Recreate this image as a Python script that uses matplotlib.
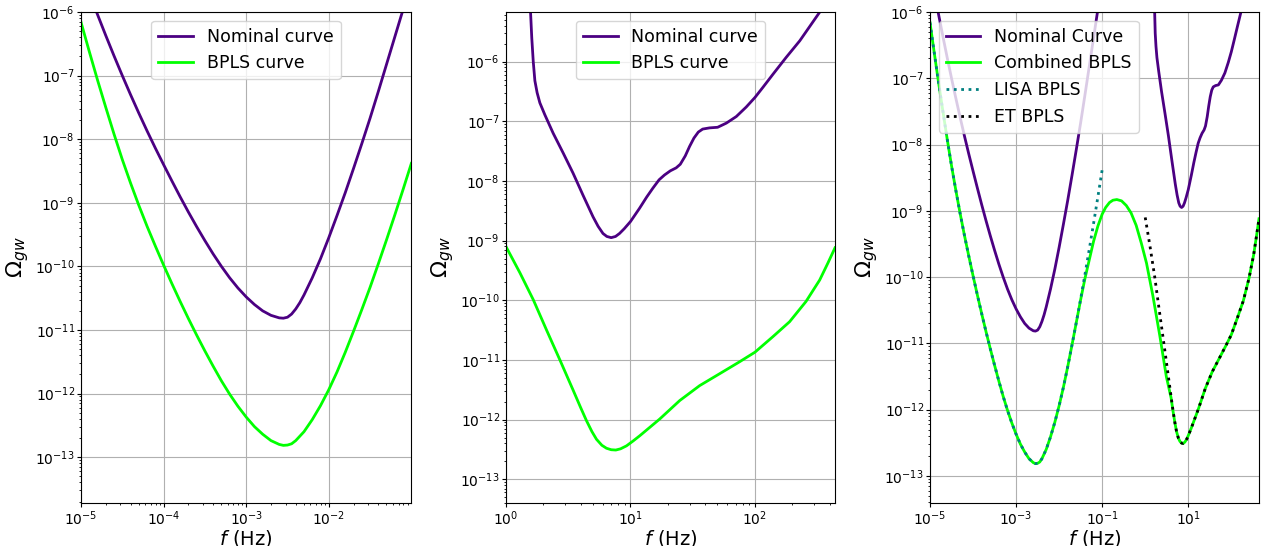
import numpy as np
import matplotlib
matplotlib.use("Agg")
import matplotlib.pyplot as plt

# ---------------- data (log10 values) ----------------
# LISA nominal curve
lisa_nom_logf = [-5.0, -4.9, -4.8, -4.7, -4.6, -4.5, -4.4, -4.3, -4.2, -4.1,
                 -4.0, -3.9, -3.8, -3.7, -3.6, -3.5, -3.4, -3.3, -3.2, -3.1,
                 -3.0, -2.9, -2.8, -2.7, -2.6, -2.55, -2.5, -2.45, -2.4, -2.35,
                 -2.3, -2.2, -2.1, -2.0, -1.9, -1.8, -1.7, -1.6, -1.5, -1.4,
                 -1.3, -1.2, -1.1, -1.0]
lisa_nom_logom = [-5.35, -5.70, -6.04, -6.37, -6.69, -7.00, -7.30, -7.59, -7.87, -8.14,
                  -8.40, -8.655, -8.905, -9.145, -9.375, -9.595, -9.805, -10.00, -10.18, -10.34,
                  -10.48, -10.60, -10.70, -10.77, -10.81, -10.815, -10.80, -10.75, -10.67, -10.57,
                  -10.45, -10.18, -9.88, -9.55, -9.20, -8.84, -8.46, -8.07, -7.67, -7.25,
                  -6.82, -6.39, -5.96, -5.52]

# LISA BPLS curve
lisa_bpls_logf = [-5.0, -4.9, -4.8, -4.7, -4.6, -4.5, -4.4, -4.3, -4.2, -4.1,
                  -4.0, -3.9, -3.8, -3.7, -3.6, -3.5, -3.4, -3.3, -3.2, -3.1,
                  -3.0, -2.9, -2.8, -2.7, -2.6, -2.55, -2.5, -2.45, -2.4, -2.3,
                  -2.2, -2.1, -2.0, -1.9, -1.8, -1.7, -1.6, -1.5, -1.4, -1.3,
                  -1.2, -1.1, -1.0]
lisa_bpls_logom = [-6.16, -6.62, -7.07, -7.50, -7.92, -8.32, -8.69, -9.04, -9.37, -9.68,
                   -9.98, -10.27, -10.55, -10.82, -11.08, -11.33, -11.57, -11.80, -12.01, -12.20,
                   -12.37, -12.52, -12.64, -12.74, -12.80, -12.815, -12.81, -12.79, -12.74, -12.60,
                   -12.41, -12.19, -11.94, -11.66, -11.35, -11.02, -10.68, -10.33, -9.96, -9.58,
                   -9.19, -8.79, -8.38]

# ET nominal curve
et_nom_logf = [0.17, 0.197, 0.207, 0.219, 0.232, 0.25, 0.272, 0.312, 0.379, 0.459,
               0.539, 0.619, 0.699, 0.74, 0.779, 0.81, 0.845, 0.88, 0.912, 0.95,
               1.0, 1.072, 1.13, 1.18, 1.23, 1.273, 1.32, 1.367, 1.40, 1.44,
               1.475, 1.51, 1.545, 1.58, 1.635, 1.70, 1.77, 1.85, 1.93, 2.0,
               2.064, 2.145, 2.25, 2.36, 2.52, 2.643]
et_nom_logom = [-4.6, -5.16, -5.6, -6.0, -6.32, -6.52, -6.69, -6.89, -7.20, -7.53,
                -7.87, -8.24, -8.60, -8.76, -8.88, -8.93, -8.95, -8.93, -8.88, -8.80,
                -8.68, -8.46, -8.27, -8.12, -7.98, -7.90, -7.83, -7.78, -7.72, -7.58,
                -7.42, -7.28, -7.18, -7.13, -7.11, -7.10, -7.03, -6.92, -6.76, -6.60,
                -6.43, -6.21, -5.93, -5.65, -5.17, -4.82]

# ET BPLS curve
et_bpls_logf = [0.0, 0.112, 0.219, 0.326, 0.433, 0.54, 0.60, 0.647, 0.69, 0.727,
                0.77, 0.807, 0.845, 0.882, 0.92, 0.968, 1.02, 1.075, 1.235, 1.396,
                1.556, 1.717, 1.877, 2.0, 2.144, 2.278, 2.41, 2.52, 2.585, 2.643]
et_bpls_logom = [-9.10, -9.54, -9.99, -10.50, -11.0, -11.51, -11.80, -12.02, -12.20, -12.33,
                 -12.43, -12.48, -12.505, -12.51, -12.49, -12.44, -12.36, -12.27, -11.99, -11.68,
                 -11.43, -11.23, -11.03, -10.87, -10.61, -10.36, -10.02, -9.66, -9.38, -9.12]

# Combined BPLS (LISA + ET)
comb_logf = [-5.0, -4.9, -4.8, -4.7, -4.6, -4.5, -4.4, -4.3, -4.2, -4.1,
             -4.0, -3.9, -3.8, -3.7, -3.6, -3.5, -3.4, -3.3, -3.2, -3.1,
             -3.0, -2.9, -2.8, -2.7, -2.6, -2.55, -2.5, -2.45, -2.4, -2.3,
             -2.2, -2.1, -2.0, -1.9, -1.8, -1.7, -1.6, -1.5, -1.4, -1.3,
             -1.2, -1.1, -1.0, -0.92, -0.83, -0.75, -0.66, -0.55, -0.44, -0.33,
             -0.21, -0.09, 0.03, 0.18, 0.34, 0.49,
             0.60, 0.647, 0.69, 0.727, 0.77, 0.807, 0.845, 0.882, 0.92, 0.968,
             1.02, 1.075, 1.235, 1.396, 1.556, 1.717, 1.877, 2.0, 2.144, 2.278,
             2.41, 2.52, 2.585, 2.643]
comb_logom = [-6.16, -6.62, -7.07, -7.50, -7.92, -8.32, -8.69, -9.04, -9.37, -9.68,
              -9.98, -10.27, -10.55, -10.82, -11.08, -11.33, -11.57, -11.80, -12.01, -12.20,
              -12.37, -12.52, -12.64, -12.74, -12.80, -12.815, -12.81, -12.79, -12.74, -12.60,
              -12.41, -12.19, -11.94, -11.66, -11.35, -11.02, -10.68, -10.34, -10.02, -9.74,
              -9.46, -9.23, -9.05, -8.95, -8.875, -8.84, -8.83, -8.85, -8.92, -9.03,
              -9.22, -9.49, -9.79, -10.29, -10.89, -11.50,
              -11.82, -12.03, -12.20, -12.33, -12.43, -12.48, -12.505, -12.51, -12.49, -12.44,
              -12.36, -12.27, -11.99, -11.68, -11.43, -11.23, -11.03, -10.87, -10.61, -10.36,
              -10.02, -9.66, -9.38, -9.12]


def p(a):
    return np.power(10.0, np.asarray(a, dtype=float))


PURPLE = "#4b0082"
GREEN = "#00ff00"
TEAL = "#008080"
LW = 2.0

fig = plt.figure(figsize=(12.63, 5.46), dpi=100)
W, H = 1263.0, 546.0
top_px, bot_px = 12, 503
bottom = 1 - bot_px / H
height = (bot_px - top_px) / H
ax1 = fig.add_axes([81 / W, bottom, 330 / W, height])
ax2 = fig.add_axes([506 / W, bottom, 329 / W, height])
ax3 = fig.add_axes([930 / W, bottom, 329 / W, height])

LEG_FS = 12.5

# Left: LISA
ax1.loglog(p(lisa_nom_logf), p(lisa_nom_logom), color=PURPLE, lw=LW, label="Nominal curve")
ax1.loglog(p(lisa_bpls_logf), p(lisa_bpls_logom), color=GREEN, lw=LW, label="BPLS curve")
ax1.set_xlim(1e-5, 0.099)
ax1.set_ylim(1.9e-14, 1e-6)
ax1.legend(loc="upper center", fontsize=LEG_FS)

# Middle: ET
ax2.loglog(p(et_nom_logf), p(et_nom_logom), color=PURPLE, lw=LW, label="Nominal curve")
ax2.loglog(p(et_bpls_logf), p(et_bpls_logom), color=GREEN, lw=LW, label="BPLS curve")
ax2.set_xlim(1.0, 10 ** 2.643)
ax2.set_ylim(4.0e-14, 6.8e-6)
ax2.legend(loc="upper center", fontsize=LEG_FS)

# Right: combined
ax3.loglog(p(lisa_nom_logf), p(lisa_nom_logom), color=PURPLE, lw=LW, label="Nominal Curve")
ax3.loglog(p(et_nom_logf), p(et_nom_logom), color=PURPLE, lw=LW)
ax3.loglog(p(comb_logf), p(comb_logom), color=GREEN, lw=LW, label="Combined BPLS")
ax3.loglog(p(lisa_bpls_logf), p(lisa_bpls_logom), color=TEAL, lw=LW, ls=":", label="LISA BPLS")
ax3.loglog(p(et_bpls_logf), p(et_bpls_logom), color="black", lw=LW, ls=":", label="ET BPLS")
ax3.set_xlim(1e-5, 10 ** 2.643)
ax3.set_ylim(3.9e-14, 1e-6)
ax3.legend(loc="upper left", fontsize=LEG_FS)

for ax in (ax1, ax2, ax3):
    ax.grid(True, which="major", color="#b0b0b0", lw=0.8)
    ax.tick_params(which="major", length=2.6, pad=1.8, labelsize=10)
    ax.tick_params(which="minor", length=1.6)
    ax.set_xlabel(r"$f$ (Hz)", fontsize=14, labelpad=0)
    ax.set_ylabel(r"$\Omega_{gw}$", fontsize=16, labelpad=3)

fig.savefig("out.png", dpi=100)
